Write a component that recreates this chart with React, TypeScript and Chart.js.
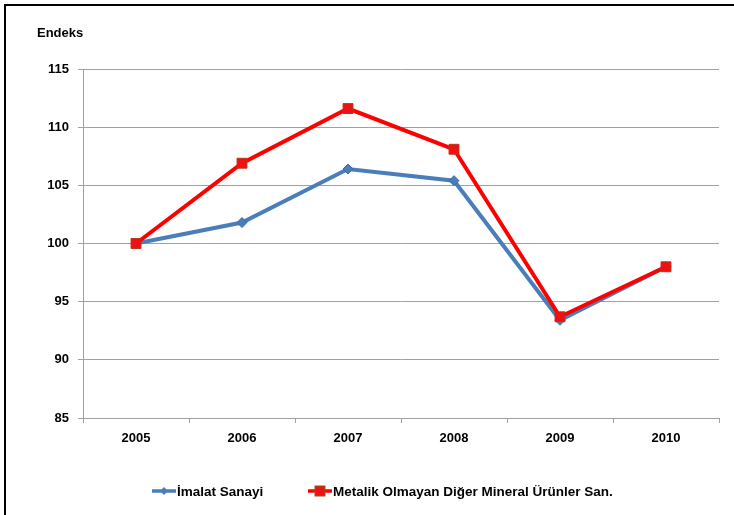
import React, { useEffect, useRef } from "react";
import { Chart, registerables } from "chart.js";

Chart.register(...registerables);

const years = ["2005", "2006", "2007", "2008", "2009", "2010"];
const imalatSanayi = [100, 101.8, 106.4, 105.4, 93.4, 98.0];
const metalikOlmayan = [100, 106.9, 111.6, 108.1, 93.7, 98.0];
const seriesNames = ["İmalat Sanayi", "Metalik Olmayan Diğer Mineral Ürünler San."];
const yTitle = "Endeks";

const BLUE = "#4a7ebb";
const RED = "#ff0000";
const FONT = "'Liberation Sans', Arial, sans-serif";

const decorPlugin = {
  id: "decor",
  afterDraw(chart: any) {
    const ctx = chart.ctx as CanvasRenderingContext2D;
    ctx.save();
    // outer frame: top and left edges only
    ctx.fillStyle = "#000";
    ctx.fillRect(4, 4, 730, 2);
    ctx.fillRect(4, 4, 2, 511);

    // y title
    ctx.fillStyle = "#000";
    ctx.font = `bold 13px ${FONT}`;
    ctx.textBaseline = "middle";
    ctx.textAlign = "left";
    ctx.fillText(yTitle, 37, 33);

    // legend
    const ly = 491;
    ctx.strokeStyle = BLUE;
    ctx.lineWidth = 3.5;
    ctx.beginPath();
    ctx.moveTo(152, ly);
    ctx.lineTo(176, ly);
    ctx.stroke();
    ctx.fillStyle = BLUE;
    ctx.beginPath();
    ctx.moveTo(164, ly - 4);
    ctx.lineTo(168, ly);
    ctx.lineTo(164, ly + 4);
    ctx.lineTo(160, ly);
    ctx.closePath();
    ctx.fill();
    ctx.fillStyle = "#000";
    ctx.font = `bold 13.5px ${FONT}`;
    ctx.fillText(seriesNames[0], 177, ly + 1);

    ctx.strokeStyle = RED;
    ctx.lineWidth = 3.5;
    ctx.beginPath();
    ctx.moveTo(308, ly);
    ctx.lineTo(332, ly);
    ctx.stroke();
    ctx.fillStyle = "#ee1111";
    ctx.fillRect(315, ly - 5, 10, 10);
    ctx.strokeStyle = "#8a5a2a";
    ctx.lineWidth = 1;
    ctx.strokeRect(315, ly - 5, 10, 10);
    ctx.fillStyle = "#000";
    ctx.fillText(seriesNames[1], 333, ly + 1);
    ctx.restore();
  },
};

export default function App() {
  const ref = useRef<HTMLCanvasElement>(null);
  useEffect(() => {
    document.body.style.margin = "0";
    const chart = new Chart(ref.current!, {
      type: "line",
      data: {
        labels: years,
        datasets: [
          {
            label: seriesNames[0],
            data: imalatSanayi,
            borderColor: BLUE,
            backgroundColor: BLUE,
            borderWidth: 4,
            pointStyle: "rectRot",
            pointRadius: 5,
            pointBackgroundColor: BLUE,
            pointBorderColor: "#3b6aa3",
            pointBorderWidth: 1,
            tension: 0,
            order: 2,
          },
          {
            label: seriesNames[1],
            data: metalikOlmayan,
            borderColor: RED,
            backgroundColor: RED,
            borderWidth: 4,
            pointStyle: "rect",
            pointRadius: 7,
            pointBackgroundColor: "#ee1111",
            pointBorderColor: "#c0301a",
            pointBorderWidth: 1,
            tension: 0,
            order: 1,
          },
        ],
      },
      options: {
        animation: false,
        responsive: false,
        maintainAspectRatio: false,
        layout: { padding: { top: 69, right: 15, left: 0, bottom: 0 } },
        plugins: {
          legend: { display: false },
          tooltip: { enabled: false },
          title: { display: false },
        },
        scales: {
          x: {
            offset: true,
            grid: {
              offset: true,
              drawOnChartArea: false,
              drawTicks: true,
              tickLength: 5,
              color: "#a0a0a0",
            },
            border: { color: "#a0a0a0", width: 1 },
            ticks: {
              color: "#000",
              padding: 8,
              font: { family: FONT, size: 13, weight: "bold" },
              maxRotation: 0,
            },
            afterFit(scale: any) {
              scale.height = 97;
            },
          },
          y: {
            min: 85,
            max: 115,
            ticks: {
              stepSize: 5,
              color: "#000",
              padding: 9,
              font: { family: FONT, size: 13, weight: "bold" },
            },
            grid: {
              color: "#a0a0a0",
              tickLength: 5,
              lineWidth: 1,
            },
            border: { color: "#a0a0a0", width: 1 },
            afterFit(scale: any) {
              scale.width = 83;
            },
          },
        },
      },
      plugins: [decorPlugin],
    });
    return () => chart.destroy();
  }, []);
  return (
    <div style={{ width: 734, height: 515, background: "#fff" }}>
      <canvas ref={ref} width={734} height={515} style={{ display: "block" }} />
    </div>
  );
}
